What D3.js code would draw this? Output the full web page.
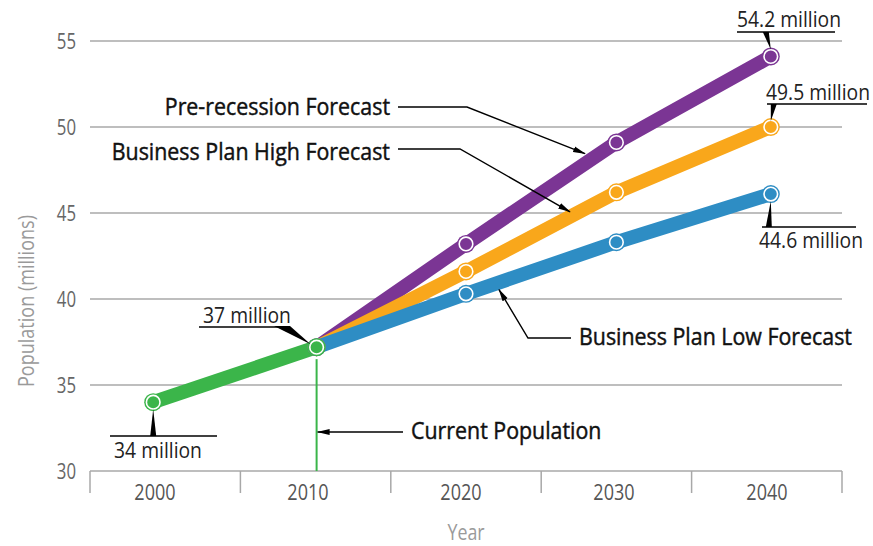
<!DOCTYPE html>
<html><head><meta charset="utf-8">
<script src="https://cdn.jsdelivr.net/npm/d3@7"></script>
<style>
body{margin:0;background:#fff;}
text{font-family:"Open Sans","Noto Sans",sans-serif;}
</style></head>
<body><svg id="c" width="873" height="546"></svg>
<script>
const years = ["2000","2010","2020","2030","2040"];
const actual = [34.0, 37.2];
const preRecession = [37.2, 43.2, 49.1, 54.1];
const bpHigh = [37.2, 41.6, 46.2, 50.0];
const bpLow = [37.2, 40.3, 43.3, 46.1];
const yTicks = [30,35,40,45,50,55];
const seriesNames = ["Pre-recession Forecast","Business Plan High Forecast","Business Plan Low Forecast","Current Population"];
const valueLabels = ["34 million","37 million","54.2 million","49.5 million","44.6 million"];

const svg = d3.select("#c");
const x = d3.scaleBand().domain(years).range([90,842]);
const xl = d3.scalePoint().domain(years).range([155,767]);
const y = d3.scaleLinear().domain([30,55]).range([471,41]);
const nudge = [-12, 1, 0, 0, 4];
const cx = i => x(years[i]) + x.bandwidth()/2 + nudge[i];

function txt(g, px, py, str, o){
  o = o || {};
  const t = g.append("text")
    .attr("transform", `translate(${px},${py})${o.rotate?` rotate(${o.rotate})`:""} scale(${o.sx||0.85},1)`)
    .attr("text-anchor", o.anchor||"start")
    .attr("font-size", o.size||21)
    .attr("fill", o.fill||"#222")
    .text(str);
  if(o.stroke) t.attr("stroke", o.fill).attr("stroke-width", o.stroke);
  return t;
}

const defs = svg.append("defs");
defs.append("marker").attr("id","arr").attr("viewBox","0 0 13 8").attr("refX",12).attr("refY",4)
  .attr("markerWidth",13).attr("markerHeight",8).attr("markerUnits","userSpaceOnUse").attr("orient","auto")
  .append("path").attr("d","M0,1 L13,4 L0,7 Z").attr("fill","#000");

// gridlines
svg.append("g").selectAll("line").data(yTicks.filter(d=>d>30)).join("line")
  .attr("x1",90).attr("x2",842).attr("y1",d=>y(d)).attr("y2",d=>y(d))
  .attr("stroke","#a8a8a8").attr("stroke-width",1.5);

// y tick labels
const yl = svg.append("g");
yTicks.forEach(d=>txt(yl, 76, y(d)+7.5, d, {anchor:"end", size:21, fill:"#666", sx:0.8}));

// x axis
const xa = svg.append("g");
xa.append("line").attr("x1",90).attr("x2",842).attr("y1",y(30)).attr("y2",y(30)).attr("stroke","#a8a8a8").attr("stroke-width",1.5);
const bounds = years.map(d=>x(d)).concat([x.range()[1]]);
xa.selectAll("line.t").data(bounds).join("line").attr("class","t")
  .attr("x1",d=>d).attr("x2",d=>d).attr("y1",y(30)).attr("y2",y(30)+22).attr("stroke","#a8a8a8").attr("stroke-width",1.5);
years.forEach(d=>txt(xa, xl(d), y(30)+29, d, {anchor:"middle", size:21, fill:"#555", sx:0.86}));

txt(svg, 466, 540, "Year", {anchor:"middle", size:21, fill:"#9a9a9a", sx:0.85});
txt(svg, 34, 301, "Population (millions)", {anchor:"middle", size:22, fill:"#9a9a9a", rotate:-90, sx:0.82});

// current population vertical line
svg.append("line").attr("x1",cx(1)).attr("x2",cx(1)).attr("y1",y(actual[1])+12).attr("y2",y(30))
  .attr("stroke","#3ab54a").attr("stroke-width",2);

// lines
const line = d3.line().x(d=>d[0]).y(d=>y(d[1]));
const forecast = vals => vals.map((v,i)=>[cx(i+1), v]);
const series = [
  {vals: forecast(preRecession), color:"#7b3594"},
  {vals: forecast(bpHigh), color:"#f9a71b"},
  {vals: forecast(bpLow), color:"#2e8dc4"},
  {vals: actual.map((v,i)=>[cx(i),v]), color:"#3bb54a"}
];
svg.append("g").selectAll("path").data(series).join("path")
  .attr("d",d=>line(d.vals)).attr("fill","none").attr("stroke",d=>d.color).attr("stroke-width",14);
svg.append("g").selectAll("g").data(series).join("g").each(function(s){
  const g = d3.select(this);
  g.selectAll("circle.o").data(s.vals).join("circle").attr("class","o")
    .attr("cx",d=>d[0]).attr("cy",d=>y(d[1])).attr("r",9).attr("fill",s.color);
  g.selectAll("circle.i").data(s.vals).join("circle").attr("class","i")
    .attr("cx",d=>d[0]).attr("cy",d=>y(d[1])).attr("r",6.8)
    .attr("fill",s.color).attr("stroke","#fff").attr("stroke-width",1.6);
});

// value label callouts
const co = svg.append("g");
function callout(label, px, py, lineY, x1, x2, textX, textY, baseX){
  co.append("line").attr("x1",x1).attr("x2",x2).attr("y1",lineY).attr("y2",lineY).attr("stroke","#000").attr("stroke-width",1.6);
  co.append("path").attr("d",`M${baseX-3},${lineY} L${baseX+3},${lineY} L${px},${py} Z`).attr("fill","#000");
  txt(co, textX, textY, label, {anchor:"middle", size:21, fill:"#222", sx:0.92});
}
callout(valueLabels[0], cx(0), y(actual[0])+7, 436, 110, 217, 158, 458, cx(0));
callout(valueLabels[2], cx(4), y(preRecession[3])-7, 32, 737, 835, 789, 27, cx(4)-5);
callout(valueLabels[3], cx(4), y(bpHigh[3])-6, 104, 767, 867, 818, 100, cx(4)+3);
callout(valueLabels[4], cx(4), y(bpLow[3])+7, 227, 762, 856, 811, 248, cx(4)-2);
// 37 million
{
  const ly = 327, px = cx(1)-6, py = y(actual[1])-3;
  co.append("line").attr("x1",199).attr("x2",282).attr("y1",ly).attr("y2",ly).attr("stroke","#000").attr("stroke-width",1.6);
  co.append("path").attr("d",`M274,${ly-1} L290,${ly-1} L${px},${py} Z`).attr("fill","#000");
  txt(co, 247, 323, valueLabels[1], {anchor:"middle", size:21, fill:"#222", sx:0.92});
}

// series annotations with leader arrows
function lerpY(vals, px){
  for(let i=0;i<vals.length-1;i++){
    const a=vals[i], b=vals[i+1];
    if(px>=a[0] && px<=b[0]){const t=(px-a[0])/(b[0]-a[0]); return y(a[1])+t*(y(b[1])-y(a[1]));}
  }
  return y(vals[vals.length-1][1]);
}
const ann = svg.append("g");
const preV = series[0].vals, hiV = series[1].vals, loV = series[2].vals;
const AO = {size:23, fill:"#111", sx:0.93, stroke:0.45};
txt(ann, 390, 115, seriesNames[0], Object.assign({anchor:"end"}, AO));
ann.append("path").attr("d",`M398,107 L467,107 L585,${lerpY(preV,585)-10}`).attr("fill","none").attr("stroke","#000").attr("stroke-width",1.4).attr("marker-end","url(#arr)");
txt(ann, 390, 160, seriesNames[1], Object.assign({anchor:"end"}, AO));
ann.append("path").attr("d",`M398,149 L460,149 L570,${lerpY(hiV,570)-5}`).attr("fill","none").attr("stroke","#000").attr("stroke-width",1.4).attr("marker-end","url(#arr)");
txt(ann, 579, 345, seriesNames[2], Object.assign({anchor:"start"}, AO));
ann.append("path").attr("d",`M571,338 L528,338 L499,${lerpY(loV,499)+7}`).attr("fill","none").attr("stroke","#000").attr("stroke-width",1.4).attr("marker-end","url(#arr)");
txt(ann, 411, 439, seriesNames[3], Object.assign({anchor:"start"}, AO));
ann.append("path").attr("d",`M403,432 L${cx(1)+1},432`).attr("fill","none").attr("stroke","#000").attr("stroke-width",1.4).attr("marker-end","url(#arr)");
</script></body></html>
